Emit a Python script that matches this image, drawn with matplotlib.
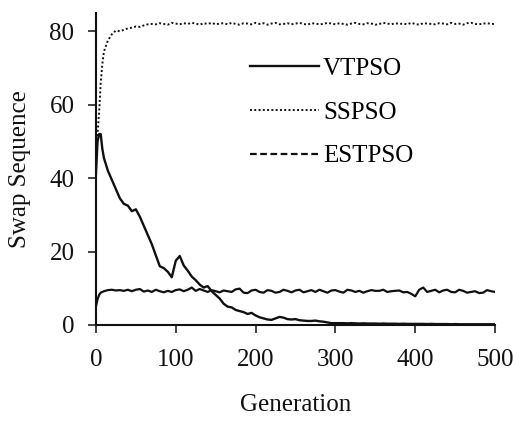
import matplotlib
matplotlib.use("Agg")
import matplotlib.pyplot as plt
from matplotlib.lines import Line2D

plt.rcParams['font.family'] = ['Liberation Serif', 'DejaVu Serif']

generations = [0, 2, 4, 6, 8, 10] + list(range(15, 505, 5))

vtpso = [41, 50, 52, 52, 48, 45.5, 42, 39.5, 37, 34.5, 33, 32.5, 31, 31.5, 29.5, 27,
         24.5, 22, 19, 16, 15.5, 14.5, 13, 17.5, 18.8, 16.2, 14.8, 13.2, 12.2, 11,
         10.2, 10.6, 9.2, 8.2, 7.2, 5.8, 5.0, 4.8, 4.1, 3.8, 3.5, 3.0, 3.3, 2.6,
         2.1, 1.8, 1.5, 1.4, 1.8, 2.2, 2.0, 1.6, 1.5, 1.6, 1.3, 1.2, 1.1, 1.1, 1.2,
         1.0, 0.9, 0.7, 0.5, 0.5, 0.5, 0.5, 0.45, 0.5, 0.45, 0.4, 0.45, 0.4, 0.4,
         0.4, 0.35, 0.4, 0.35, 0.35, 0.35, 0.3, 0.35, 0.3, 0.3, 0.3, 0.3, 0.3, 0.25,
         0.3, 0.25, 0.25, 0.25, 0.25, 0.2, 0.25, 0.2, 0.2, 0.2, 0.2, 0.2, 0.2, 0.2,
         0.2, 0.2, 0.2]

sspso = [48, 52, 58, 66, 71, 74.5, 77.5, 79.2, 80.2, 80.0, 80.4, 80.8, 81.0, 81.3,
         81.2, 81.6, 81.9, 82.0, 81.9, 82.2, 82.0, 81.8, 82.3, 82.1, 81.9, 82.2,
         82.0, 82.3, 82.1, 81.8, 82.2, 82.0, 82.3, 81.9, 82.1, 82.2, 81.9, 82.3,
         82.0, 81.8, 82.2, 82.1, 81.9, 82.3, 82.0, 82.2, 81.8, 82.1, 82.3, 81.9,
         82.0, 82.2, 81.9, 82.1, 82.3, 82.0, 81.8, 82.2, 82.1, 81.9, 82.0, 82.3,
         82.1, 81.9, 82.2, 82.0, 81.8, 82.1, 82.3, 82.0, 81.9, 82.2, 82.1, 81.8,
         82.0, 82.3, 82.1, 81.9, 82.2, 82.0, 82.1, 81.9, 82.3, 82.0, 81.8, 82.2,
         82.1, 82.0, 81.9, 82.2, 82.1, 81.9, 82.3, 82.0, 82.1, 81.8, 82.2, 82.3,
         82.0, 81.9, 82.1, 82.2, 82.0, 82.0]

estpso = [5, 7, 8.2, 8.8, 9.0, 9.2, 9.5, 9.6, 9.4, 9.5, 9.3, 9.6, 9.2, 9.6, 9.8,
          9.1, 9.4, 9.0, 9.6, 9.2, 8.9, 9.3, 9.0, 9.5, 9.7, 9.2, 9.6, 10.2, 9.3,
          9.8, 9.4, 9.0, 9.5, 9.2, 8.9, 9.4, 9.2, 9.0, 9.7, 9.9, 8.8, 8.7, 9.4,
          9.6, 9.0, 8.8, 9.5, 9.3, 8.8, 9.0, 9.6, 9.3, 8.9, 9.4, 9.6, 8.9, 9.2,
          9.5, 9.0, 9.6, 9.2, 8.8, 9.4, 9.5, 9.1, 8.8, 9.6, 9.4, 9.0, 9.3, 8.8,
          9.2, 9.5, 9.3, 9.3, 9.6, 9.0, 9.2, 9.3, 9.4, 8.9, 9.0, 8.5, 7.8, 9.6,
          10.2, 9.0, 9.3, 9.6, 8.9, 9.4, 9.6, 9.0, 8.9, 9.6, 9.3, 8.8, 9.0, 9.2,
          8.7, 8.8, 9.5, 9.2, 9.0]

labels = ["VTPSO", "SSPSO", "ESTPSO"]
x_ticks = [0, 100, 200, 300, 400, 500]
y_ticks = [0, 20, 40, 60, 80]

fig = plt.figure(figsize=(5.13, 4.24), dpi=100)
ax = fig.add_axes([0.187, 0.2335, 0.778, 0.736])

c = '#111111'
dotted = (0, (1, 1.2))
dashed = (0, (3, 1.6))
ax.plot(generations, vtpso, color=c, lw=1.7, ls='-')
ax.plot(generations, sspso, color=c, lw=1.4, ls=dotted)
# in the reference the dashes of this wiggly trace merge into a solid-looking line
ax.plot(generations, estpso, color=c, lw=1.6, ls='-')

handles = [Line2D([], [], color=c, lw=1.7, ls='-'),
           Line2D([], [], color=c, lw=1.4, ls=dotted),
           Line2D([], [], color=c, lw=1.6, ls=dashed)]

ax.set_xlim(0, 500)
ax.set_ylim(0, 85)
ax.set_xticks(x_ticks)
ax.set_yticks(y_ticks)
for s in ['top', 'right']:
    ax.spines[s].set_visible(False)
for s in ['left', 'bottom']:
    ax.spines[s].set_linewidth(1.5)
    ax.spines[s].set_color(c)
ax.tick_params(direction='out', length=5.5, width=1.1, labelsize=18, colors=c)
ax.tick_params(axis='x', pad=12)
ax.tick_params(axis='y', pad=10)

ax.set_xlabel("Generation", fontsize=18, labelpad=16, color=c)
ax.set_ylabel("Swap Sequence", fontsize=18, labelpad=13, color=c)

ax.legend(handles, labels, loc='upper left', bbox_to_anchor=(0.362, 0.89),
          frameon=False, fontsize=18, handlelength=2.75, handletextpad=0.15,
          labelspacing=0.85, borderaxespad=0)

fig.savefig("out.png", dpi=100)
